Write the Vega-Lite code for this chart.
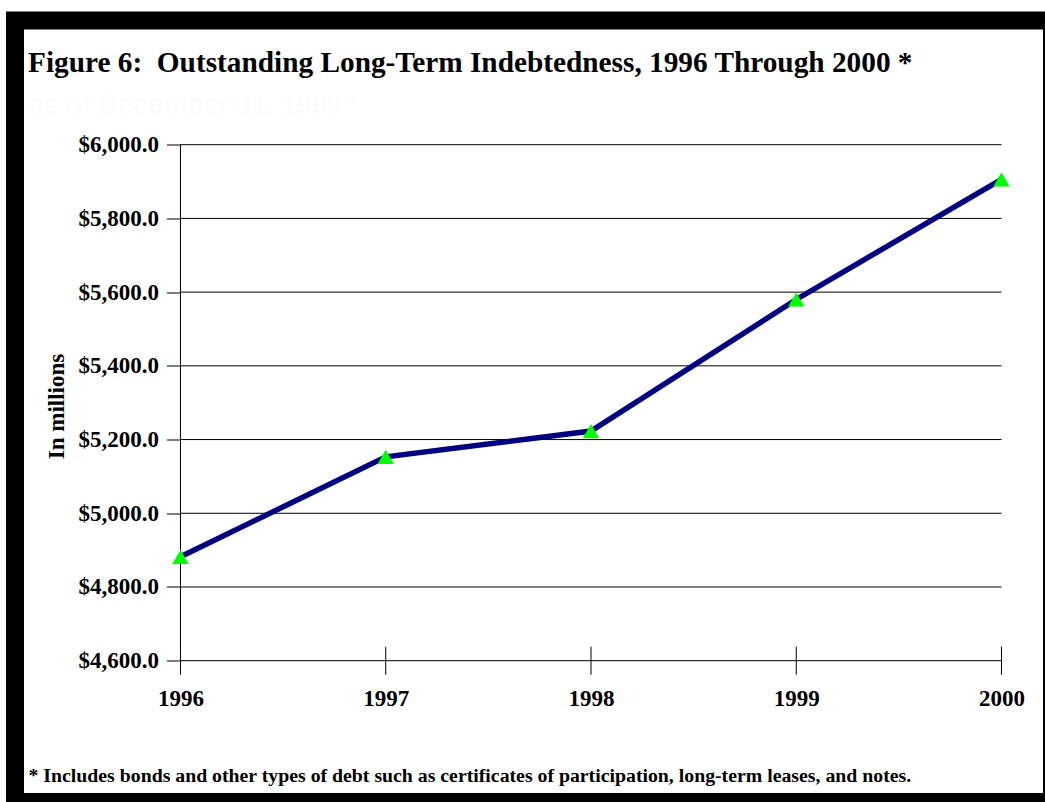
{
  "$schema": "https://vega.github.io/schema/vega-lite/v6.json",
  "width": 1037,
  "height": 781.5,
  "autosize": {"type": "none"},
  "padding": {"left": 15, "top": 20.5, "right": -7, "bottom": 0},
  "background": "white",
  "config": {
    "view": {"fill": "white", "stroke": "black", "strokeWidth": 18},
    "font": "Liberation Serif"
  },
  "title": {
    "text": "Figure 6:\u00a0 Outstanding Long-Term Indebtedness, 1996 Through 2000 *",
    "subtitle": "as of December 31, 1999 *",
    "anchor": "start",
    "frame": "group",
    "orient": "top",
    "dx": 13,
    "offset": -121,
    "font": "Liberation Serif",
    "fontSize": 29.3,
    "fontWeight": "bold",
    "color": "black",
    "baseline": "alphabetic",
    "subtitleFont": "Liberation Sans",
    "subtitleFontSize": 27,
    "subtitleFontWeight": "bold",
    "subtitleColor": "#fcfcfc",
    "subtitlePadding": 12
  },
  "datasets": {
    "debt": [
      {"year": "1996", "value": 4882},
      {"year": "1997", "value": 5153},
      {"year": "1998", "value": 5223},
      {"year": "1999", "value": 5580},
      {"year": "2000", "value": 5906}
    ],
    "grid": [
      {"value": 4600}, {"value": 4800}, {"value": 5000}, {"value": 5200},
      {"value": 5400}, {"value": 5600}, {"value": 5800}, {"value": 6000}
    ]
  },
  "data": {"name": "debt"},
  "encoding": {
    "x": {
      "field": "year",
      "type": "ordinal",
      "scale": {"type": "point", "domain": ["1996", "1997", "1998", "1999", "2000"], "padding": 0.52619, "align": 0.7662},
      "axis": {
        "title": "* Includes bonds and other types of debt such as certificates of participation, long-term leases, and notes.",
        "offset": -141.3,
        "domain": false,
        "ticks": false,
        "tickSize": 0,
        "grid": false,
        "labelAngle": 0,
        "labelPadding": 27,
        "labelFont": "Liberation Serif",
        "labelFontSize": 23,
        "labelFontWeight": "bold",
        "labelColor": "black",
        "titleAnchor": "start",
        "titleAlign": "left",
        "titleX": 13,
        "titleY": 120.3,
        "titleBaseline": "alphabetic",
        "titleFont": "Liberation Serif",
        "titleFontSize": 19.8,
        "titleFontWeight": "bold",
        "titleColor": "black"
      }
    },
    "y": {
      "field": "value",
      "type": "quantitative",
      "scale": {"domain": [4216.63, 6336.97], "nice": false, "zero": false},
      "axis": {
        "title": "In millions",
        "values": [4600, 4800, 5000, 5200, 5400, 5600, 5800, 6000],
        "format": "$,.1f",
        "offset": -165.5,
        "domain": false,
        "grid": false,
        "ticks": true,
        "tickSize": 14,
        "tickColor": "black",
        "tickWidth": 1,
        "labelPadding": 8,
        "labelFont": "Liberation Serif",
        "labelFontSize": 23,
        "labelFontWeight": "bold",
        "labelColor": "black",
        "titleFont": "Liberation Serif",
        "titleFontSize": 23,
        "titleFontWeight": "bold",
        "titleColor": "black",
        "titlePadding": 10,
        "titleY": 385.5
      }
    }
  },
  "layer": [
    {
      "data": {"name": "grid"},
      "mark": {"type": "rule", "color": "black", "strokeWidth": 1},
      "encoding": {
        "x": {"datum": "1996", "type": "ordinal"},
        "x2": {"datum": "2000"}
      }
    },
    {
      "transform": [{"filter": "datum.year == '1996'"}],
      "mark": {"type": "rule", "color": "black", "strokeWidth": 1},
      "encoding": {
        "y": {"datum": 4600, "type": "quantitative"},
        "y2": {"datum": 6000}
      }
    },
    {
      "mark": {"type": "tick", "orient": "vertical", "size": 28, "thickness": 1, "color": "black", "opacity": 1},
      "encoding": {
        "y": {"datum": 4600, "type": "quantitative"}
      }
    },
    {
      "mark": {"type": "line", "color": "#000080", "strokeWidth": 5.5},
      "encoding": {}
    },
    {
      "mark": {"type": "point", "shape": "triangle-up", "filled": true, "color": "#00ff00", "opacity": 1, "size": 270},
      "encoding": {}
    }
  ]
}
